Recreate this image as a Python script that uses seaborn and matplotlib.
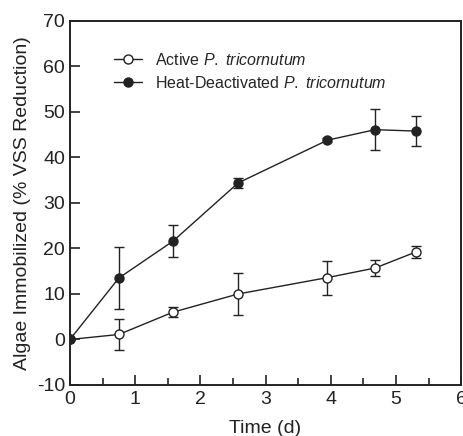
import matplotlib
matplotlib.use("Agg")
import matplotlib.pyplot as plt
import pandas as pd
import seaborn as sns
from matplotlib.ticker import MultipleLocator

time_d = [0, 0.75, 1.58, 2.58, 3.95, 4.68, 5.30]
active = [0, 1.1, 6.0, 10.0, 13.6, 15.7, 19.2]
active_err = [0, 3.35, 1.05, 4.7, 3.75, 1.8, 1.35]
heat = [0, 13.5, 21.6, 34.4, 43.8, 46.1, 45.8]
heat_err = [0, 6.75, 3.45, 1.15, 0.4, 4.55, 3.35]

labels = [r"Active $\mathit{P.\ tricornutum}$",
          r"Heat-Deactivated $\mathit{P.\ tricornutum}$"]

sns.set_style("ticks")
plt.rcParams["font.family"] = ["Liberation Sans", "DejaVu Sans"]
plt.rcParams["mathtext.fontset"] = "custom"
plt.rcParams["mathtext.it"] = "Liberation Sans:italic"
plt.rcParams["mathtext.rm"] = "Liberation Sans"
plt.rcParams["axes.unicode_minus"] = False

ink = "#222222"
df = pd.DataFrame({
    "time": time_d * 2,
    "value": active + heat,
    "series": [labels[0]] * len(time_d) + [labels[1]] * len(time_d),
})

fig = plt.figure(figsize=(4.63, 4.36), dpi=100)
ax = fig.add_axes([0.151, 0.117, 0.845, 0.835])

for lab, err, face in [(labels[0], active_err, "white"), (labels[1], heat_err, ink)]:
    sub = df[df["series"] == lab]
    ax.errorbar(sub["time"], sub["value"], yerr=err, fmt="none", ecolor=ink,
                elinewidth=1.0, capsize=3.5, capthick=1.0, zorder=2)
    sns.lineplot(data=sub, x="time", y="value", ax=ax, color=ink, lw=1.0,
                 marker="o", markersize=6.5, markerfacecolor=face,
                 markeredgecolor=ink, markeredgewidth=1.0, label=lab, zorder=3)

ax.set_xlim(0, 6)
ax.set_ylim(-10, 70)
ax.xaxis.set_major_locator(MultipleLocator(1))
ax.xaxis.set_minor_locator(MultipleLocator(0.5))
ax.yaxis.set_major_locator(MultipleLocator(10))
ax.tick_params(axis="both", which="both", direction="in", colors=ink,
               labelsize=14, labelcolor=ink, width=1.2)
ax.tick_params(which="major", length=7)
ax.tick_params(which="minor", length=5)
ax.tick_params(axis="x", pad=4)
for s in ax.spines.values():
    s.set_visible(True)
    s.set_color(ink)
    s.set_linewidth(1.4)

ax.set_xlabel("Time (d)", fontsize=14, color=ink, labelpad=9)
ax.set_ylabel("Algae Immobilized (% VSS Reduction)", fontsize=14, color=ink)

ax.legend(loc="upper left", bbox_to_anchor=(0.075, 0.955), frameon=False,
          fontsize=11.5, handlelength=1.8, handletextpad=0.8, labelspacing=0.45)

fig.savefig("out.png", dpi=100)
